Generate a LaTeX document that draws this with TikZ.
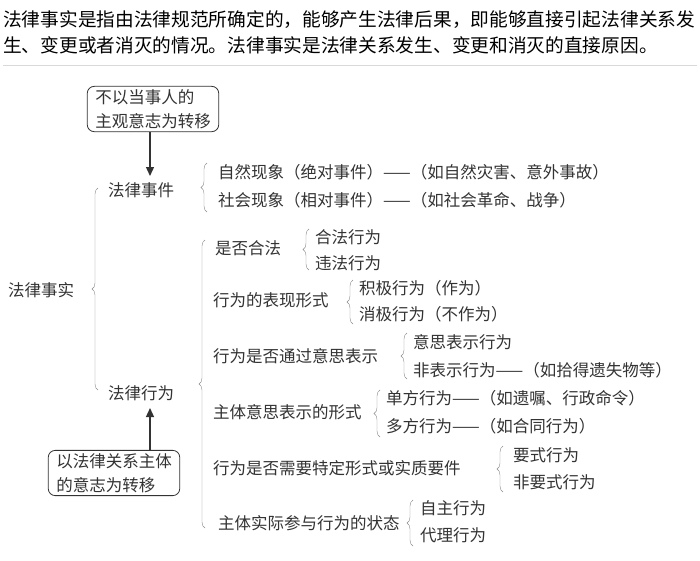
\documentclass[tikz,border=0pt]{standalone}
\usepackage{fontspec}
\setmainfont{Noto Sans CJK SC}
\usepackage{xcolor}
\definecolor{lineGray}{HTML}{8A8A8A}
\definecolor{textDark}{HTML}{333333}
\usetikzlibrary{positioning,decorations.pathreplacing,arrows.meta}

\begin{document}
\begin{tikzpicture}[
            x=1pt, y=-1pt,
            item/.style={
                anchor=west,
                inner sep=0pt,
                font=\fontsize{16.5}{20}\selectfont,
                text=textDark
            },
            head/.style={
                anchor=west,
                inner sep=0pt,
                font=\fontsize{18.7}{21}\selectfont,
                text=black
            },
            note/.style={
                draw=textDark,
                rounded corners=7pt,
                thick,
                align=left,
                inner xsep=8pt,
                inner ysep=3pt,
                font=\fontsize{16.5}{24}\selectfont,
                text=textDark
            },
            brace/.style={
                draw=lineGray,
                decorate,
                decoration={brace, amplitude=6pt}
            },
            arrow/.style={
                -{Triangle[length=9pt,width=8pt]},
                line width=1.3pt,
                color=textDark
            }
        ]
            \useasboundingbox (0,0) rectangle (700,560);
            \fill[white] (0,0) rectangle (700,560);
            % header
            \node (line1) [head] at (3,20) {法律事实是指由法律规范所确定的，能够产生法律后果，即能够直接引起法律关系发};
            \node (line2) [head] at (3,45) {生、变更或者消灭的情况。法律事实是法律关系发生、变更和消灭的直接原因。};
            \draw[black!15] (3,65) -- (697,65);

            % root
            \node (fact) [item] at (8,290) {法律事实};
            \node (event) [item] at (108,190) {法律事件};
            \node (act) [item] at (108,393) {法律行为};
            \draw[brace] (98,390) -- (98,188);

            % notes
            \node (subj) [note] at (153,109) {不以当事人的\\主观意志为转移};
            \node (rel) [note] at (114,473) {以法律关系主体\\的意志为转移};
            \coordinate (evtop) at (150,176);
            \coordinate (actbot) at (150,408);
            \draw[arrow] (subj.south -| evtop) -- (evtop);
            \draw[arrow] (rel.north -| actbot) -- (actbot);

            % events
            \draw[brace] (207,212) -- (207,163);
            \node (nature) [item] at (218,172) {自然现象（绝对事件）——（如自然灾害、意外事故）};
            \node (society) [item] at (218,200) {社会现象（相对事件）——（如社会革命、战争）};

            % acts
            \draw[brace] (205,528) -- (205,240);
            \node (legal) [item] at (215,248) {是否合法};
            \draw[brace] (309,270) -- (309,229);
            \node (lawful) [item] at (315,237) {合法行为};
            \node (unlawful) [item] at (315,263) {违法行为};

            \node (form) [item] at (213,300) {行为的表现形式};
            \draw[brace] (353,324) -- (353,280);
            \node (active) [item] at (359,288) {积极行为（作为）};
            \node (passive) [item] at (359,314) {消极行为（不作为）};

            \node (intent) [item] at (213,356) {行为是否通过意思表示};
            \draw[brace] (407,379) -- (407,333);
            \node (express) [item] at (413,342) {意思表示行为};
            \node (nonexpress) [item] at (413,370) {非表示行为——（如拾得遗失物等）};

            \node (will) [item] at (213,412) {主体意思表示的形式};
            \draw[brace] (380,437) -- (380,390);
            \node (single) [item] at (386,398) {单方行为——（如遗嘱、行政命令）};
            \node (multi) [item] at (386,426) {多方行为——（如合同行为）};

            \node (formal) [item] at (213,468) {行为是否需要特定形式或实质要件};
            \draw[brace] (503,492) -- (503,446);
            \node (formreq) [item] at (513,455) {要式行为};
            \node (noform) [item] at (513,482) {非要式行为};

            \node (state) [item] at (218,523) {主体实际参与行为的状态};
            \draw[brace] (413,546) -- (413,500);
            \node (self) [item] at (420,508) {自主行为};
            \node (agent) [item] at (420,535) {代理行为};
        \end{tikzpicture}
\end{document}
